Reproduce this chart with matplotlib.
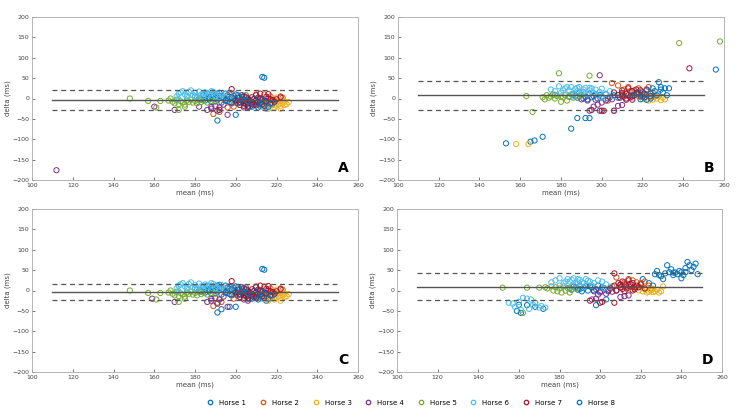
import numpy as np
import matplotlib.pyplot as plt
from matplotlib.lines import Line2D

# horse names and MATLAB default colours
horses = ['Horse 1', 'Horse 2', 'Horse 3', 'Horse 4',
          'Horse 5', 'Horse 6', 'Horse 7', 'Horse 8']
colors = ['#0072BD', '#D95319', '#EDB120', '#7E2F8E',
          '#77AC30', '#4DBEEE', '#A2142F', '#0072BD']

# limits of agreement per panel: (mean, upper, lower)
loa_A = (-3, 20, -28)
loa_B = (8, 43, -27)
loa_C = (-3, 17, -24)
loa_D = (9, 43, -24)

# ---- panel A: (mean, delta) per horse ----
a_h1 = [(180, 5), (182, 0), (184, 8), (185, -5), (186, 12), (187, 3), (188, -8), (189, 10), (190, 0),
        (191, -3), (192, 6), (193, -10), (194, 2), (195, 12), (196, -6), (197, 4), (198, -12), (199, 0),
        (200, -2), (201, 8), (202, -8), (203, 3), (205, -15), (206, -4), (208, -20), (210, -10),
        (212, -18), (215, -22), (213, 53), (214, 51), (191, -54), (200, -40), (188, 5), (192, 14),
        (196, 8), (183, -3), (185, 4), (187, -2), (189, 6), (191, 12), (193, 2), (195, -4), (197, -9),
        (199, 6), (201, -4), (204, -8)]
a_h2 = [(189, -38), (192, -33), (205, 8), (210, 10), (217, 5), (219, -5), (222, 5), (223, 2), (212, -3),
        (215, -15), (200, -10), (197, 10), (199, -20), (214, 10), (196, -22)]
a_h3 = [(210, -10), (212, -18), (213, -5), (214, -12), (215, -20), (216, -8), (217, -3), (218, -15),
        (219, -22), (220, -10), (221, -5), (222, -18), (223, -12), (224, -8), (225, -14), (226, -9),
        (218, 0), (220, 2), (216, -25), (222, -25), (219, -16), (221, -14), (217, -10), (220, -18),
        (223, -4), (224, -16), (215, -6)]
a_h4 = [(112, -176), (160, -20), (170, -28), (182, -20), (186, -28), (188, -20), (190, -18), (192, -22),
        (194, -15), (196, -40), (198, -10), (200, -5), (204, -22), (206, -20), (210, -12), (188, -25),
        (191, -30)]
a_h5 = [(148, 0), (157, -6), (161, -22), (163, -6), (167, -5), (168, 0), (169, -8), (170, -12), (171, -3),
        (172, -28), (173, -7), (174, -10), (175, -15), (176, -5), (177, -8), (178, -3), (179, -10),
        (180, -6), (181, -12), (182, -4), (183, -9), (184, -5), (186, -10), (188, -6), (190, -8),
        (175, -20), (172, -14)]
a_h6 = [(171, 5), (172, 12), (173, 15), (174, 18), (175, 10), (176, 3), (177, 16), (178, 20), (179, 8),
        (180, 14), (181, 2), (182, 17), (183, 10), (184, 5), (185, 15), (186, 8), (187, 12), (188, 0),
        (189, 16), (190, 6), (191, 10), (193, 13), (195, 2), (197, -5), (199, 8), (202, -3), (205, -10),
        (208, -15), (213, -20), (215, -25), (172, -2), (176, 7), (180, 6), (184, 12), (188, 18), (192, 4)]
a_h7 = [(198, 23), (200, -5), (201, 2), (202, -10), (203, -3), (204, 5), (205, -12), (206, 0), (207, -8),
        (208, 3), (209, -15), (210, -5), (211, 2), (212, -10), (213, -2), (214, -18), (215, -7), (216, 0),
        (217, -12), (218, -4), (204, -18), (206, -20), (208, -14), (210, 8), (212, 12), (216, 11),
        (220, -2), (222, 3), (203, 8), (205, 3), (207, -5), (209, -2), (211, -9), (213, -14), (192, -28),
        (202, -16), (204, -6), (206, -12), (208, -9), (210, -17), (212, 0), (214, -6), (215, 4),
        (217, -2), (219, -8)]
a_h8 = [(195, -5), (198, 3), (201, -12), (203, -2), (206, -6), (209, 0), (211, -15), (214, -8),
        (216, -20), (218, -12), (200, 10), (204, 6), (207, -20), (211, -22), (213, -3)]

# ---- panel B ----
b_h1 = [(153, -110), (165, -106), (167, -103), (171, -94), (185, -74), (188, -48), (192, -48), (194, -48),
        (184, 5), (186, 10), (188, 2), (190, 8), (192, 4), (194, 12), (196, 6), (198, 0), (200, 5),
        (202, 10), (204, 3), (206, 8), (208, 2), (210, 6), (189, 14), (193, -2), (197, 10), (187, 6),
        (191, 0), (195, 3), (199, 9), (203, 0)]
b_h2 = [(205, 38), (208, 32), (213, 28), (216, 20), (210, 10), (214, 18), (218, 25), (221, 12),
        (223, 28), (226, 5), (211, 22), (203, -5), (206, -30), (225, 15)]
b_h3 = [(158, -112), (164, -112), (215, 0), (218, 5), (220, -2), (222, 8), (224, 3), (225, -3),
        (226, 10), (227, 0), (228, 5), (229, -4), (230, 2), (231, -2), (223, -5), (219, 10), (221, 0),
        (216, 12)]
b_h4 = [(199, 57), (194, -30), (196, -20), (198, -15), (199, -30), (206, -30), (208, -18), (210, -16),
        (212, 0), (197, -3), (202, -5), (205, -2), (200, -10), (215, -3), (193, -5), (190, -2)]
b_h5 = [(163, 6), (166, -33), (171, 3), (173, 8), (175, 5), (176, 10), (177, 0), (178, 6), (179, 62),
        (180, -8), (181, 3), (182, 8), (183, -5), (184, 4), (185, 10), (186, 2), (188, 6), (190, 8),
        (194, 56), (238, 136), (258, 140), (172, -2), (174, 2), (177, 9), (180, 5)]
b_h6 = [(175, 22), (177, 18), (179, 30), (180, 14), (182, 25), (184, 20), (185, 28), (186, 12),
        (187, 24), (188, 18), (189, 28), (190, 15), (191, 22), (192, 26), (193, 10), (194, 20), (195, 25),
        (196, 14), (197, 22), (198, 8), (200, 24), (202, 12), (204, 18), (200, 2), (206, 5), (186, 5),
        (181, 20), (183, 28), (188, 26), (191, 16), (194, 26), (199, 16)]
b_h7 = [(200, -30), (201, -30), (195, -28), (243, 74), (206, 15), (208, 8), (210, 20), (211, 5),
        (212, 12), (213, 25), (214, 3), (215, 18), (216, 8), (217, 22), (218, 12), (219, 5), (220, 15),
        (221, 10), (222, 22), (224, 6), (212, -3), (209, 2), (210, 14), (213, 8), (215, 5), (217, 14),
        (219, 20), (221, 3)]
b_h8 = [(215, 8), (218, 15), (220, 5), (222, 20), (224, 12), (225, 25), (226, 18), (227, 8), (228, 40),
        (229, 22), (230, 15), (231, 25), (232, 8), (233, 25), (256, 71), (224, 0), (219, -2), (222, -3),
        (229, 28)]

# ---- panel C ----
c_h1 = [(180, 5), (182, 0), (184, 8), (185, -5), (186, 12), (187, 3), (188, -8), (189, 10), (190, 0),
        (191, -3), (192, 6), (193, -10), (194, 2), (195, 12), (196, -6), (197, 4), (198, -12), (199, 0),
        (200, -2), (201, 8), (202, -8), (203, 3), (205, -15), (206, -4), (208, -20), (210, -10),
        (212, -18), (215, -25), (213, 53), (214, 51), (191, -54), (193, -46), (197, -40), (200, -40),
        (188, 5), (192, 14), (196, 8), (183, -3), (185, 4), (187, -2), (189, 6), (191, 12), (193, 2),
        (195, -4), (197, -9), (199, 6), (201, -4), (204, -8)]
c_h2 = [(189, -38), (191, -33), (205, 8), (210, 10), (217, 5), (219, -5), (222, 5), (223, 2), (212, -3),
        (215, -15), (200, -10), (197, 10), (199, -20), (214, 10), (193, -28)]
c_h3 = [(210, -10), (212, -18), (213, -5), (214, -12), (215, -20), (216, -8), (217, -3), (218, -15),
        (219, -22), (220, -10), (221, -5), (222, -18), (223, -12), (224, -8), (225, -14), (226, -9),
        (218, 0), (220, 2), (216, -25), (222, -25), (219, -16), (221, -14), (217, -10), (220, -18),
        (223, -4), (224, -16), (215, -6)]
c_h4 = [(159, -20), (170, -28), (186, -28), (188, -20), (190, -18), (192, -22), (194, -15), (196, -40),
        (198, -10), (200, -5), (204, -22), (206, -25), (210, -12), (188, -25), (191, -30)]
c_h5 = [(148, 0), (157, -6), (161, -22), (163, -6), (167, -5), (168, 0), (169, -8), (170, -12), (171, -3),
        (172, -28), (173, -7), (174, -10), (175, -15), (176, -5), (177, -8), (178, -3), (179, -10),
        (180, -6), (181, -12), (182, -4), (183, -9), (184, -5), (186, -10), (188, -6), (190, -8),
        (175, -20), (172, -14)]
c_h6 = [(171, 5), (172, 12), (173, 15), (174, 18), (175, 10), (176, 3), (177, 16), (178, 20), (179, 8),
        (180, 14), (181, 2), (182, 17), (183, 10), (184, 5), (185, 15), (186, 8), (187, 12), (188, 0),
        (189, 16), (190, 6), (191, 10), (193, 13), (195, 2), (197, -5), (199, 8), (202, -3), (205, -10),
        (208, -15), (213, -20), (172, -2), (176, 7), (180, 6), (184, 12), (188, 18), (192, 4)]
c_h7 = [(198, 23), (200, -5), (201, 2), (202, -10), (203, -3), (204, 5), (205, -12), (206, 0), (207, -8),
        (208, 3), (209, -15), (210, -5), (211, 2), (212, -10), (213, -2), (214, -18), (215, -7), (216, 0),
        (217, -12), (218, -4), (204, -18), (206, -20), (208, -14), (210, 8), (212, 12), (216, 11),
        (220, -2), (222, 3), (203, 8), (205, 3), (207, -5), (209, -2), (211, -9), (213, -14),
        (202, -16), (204, -6), (206, -12), (208, -9), (210, -17), (212, 0), (214, -6), (215, 4),
        (217, -2), (219, -8)]
c_h8 = [(195, -5), (198, 3), (201, -12), (203, -2), (206, -6), (209, 0), (211, -15), (214, -8),
        (216, -20), (218, -12), (200, 10), (204, 6), (207, -20), (211, -22), (213, -3)]

# ---- panel D ----
d_h1 = [(159, -50), (161, -55), (164, -36), (168, -40), (172, -45), (160, -35), (185, 5), (187, 10),
        (189, 2), (190, 12), (192, 6), (194, 0), (196, 8), (198, 3), (200, -2), (202, 6), (204, 0),
        (198, -36), (203, -22), (221, 28), (224, 18), (226, 12), (188, 8), (191, -2), (195, 10), (199, 12),
        (186, 2), (190, 4), (193, 10), (197, 0), (201, 8)]
d_h2 = [(208, 32), (214, 28), (216, 25), (218, 20), (220, 18), (222, 22), (224, 12), (210, 15),
        (212, 20), (219, 10), (225, 5), (206, 10)]
d_h3 = [(215, 2), (217, 5), (219, 0), (220, 8), (221, -2), (222, 3), (223, 6), (224, -3), (225, 0),
        (226, 4), (227, -2), (228, 2), (229, -5), (230, -2), (231, 10), (218, 8), (223, -5), (226, -4)]
d_h4 = [(196, -22), (198, -20), (199, -10), (200, -5), (203, -8), (204, -2), (210, -16), (212, -14),
        (214, -12), (202, 2), (206, -3), (208, 0), (197, -2)]
d_h5 = [(152, 7), (164, 7), (170, 7), (162, -55), (168, -30), (174, 5), (176, 10), (177, 0), (178, 8),
        (180, 5), (181, -5), (182, 10), (183, 0), (184, 6), (185, -5), (186, 3), (188, 6), (173, 8),
        (179, -2)]
d_h6 = [(155, -30), (157, -32), (160, -28), (162, -18), (164, -20), (166, -22), (168, -30), (170, -42),
        (171, -38), (173, -42), (158, -40), (161, -48), (165, -45), (167, -35), (176, 20), (178, 25),
        (180, 30), (182, 18), (184, 28), (185, 22), (187, 30), (188, 15), (190, 26), (191, 20), (193, 28),
        (195, 22), (197, 18), (199, 25), (201, 22), (203, 15), (205, 8), (186, 10), (189, 20), (192, 8),
        (196, 12), (202, 5), (180, 12), (183, 22), (186, 26), (189, 28), (192, 18), (194, 24)]
d_h7 = [(195, -25), (200, -30), (201, -28), (207, 42), (207, -30), (205, 5), (207, 12), (209, 18),
        (210, 8), (211, 22), (212, 15), (213, 5), (214, 25), (215, 10), (216, 18), (217, 3), (218, 12),
        (219, 8), (220, 15), (222, 5), (208, 0), (212, -2), (216, 0), (210, 14), (213, 10), (215, 16),
        (217, 8), (211, 4)]
d_h8 = [(227, 40), (228, 48), (230, 35), (231, 28), (232, 42), (233, 62), (234, 45), (235, 52), (236, 38),
        (237, 44), (238, 40), (239, 48), (240, 45), (241, 38), (242, 55), (243, 70), (244, 62), (245, 50),
        (246, 58), (247, 66), (248, 40), (242, 45), (240, 30), (236, 44), (229, 38)]

panels = [
    ('A', [a_h1, a_h2, a_h3, a_h4, a_h5, a_h6, a_h7, a_h8], loa_A, [32, 17, 326, 163]),
    ('B', [b_h1, b_h2, b_h3, b_h4, b_h5, b_h6, b_h7, b_h8], loa_B, [398, 17, 326, 163]),
    ('C', [c_h1, c_h2, c_h3, c_h4, c_h5, c_h6, c_h7, c_h8], loa_C, [32, 209, 326, 163]),
    ('D', [d_h1, d_h2, d_h3, d_h4, d_h5, d_h6, d_h7, d_h8], loa_D, [397, 209, 325, 163]),
]

W, H = 743, 417
fig = plt.figure(figsize=(W / 100, H / 100), dpi=100)

for letter, data, loa, (px, py, pw, ph) in panels:
    ax = fig.add_axes([px / W, 1 - (py + ph) / H, pw / W, ph / H])
    for pts, col in zip(data, colors):
        arr = np.array(pts, dtype=float)
        ax.scatter(arr[:, 0], arr[:, 1], s=14, facecolors='none', edgecolors=col, linewidths=0.7, zorder=2)
    m, up, lo = loa
    ax.plot([110, 250], [m, m], color='#555555', lw=1.0, zorder=3)
    ax.plot([110, 250], [up, up], color='#555555', lw=0.9, ls=(0, (4, 3)), zorder=3)
    ax.plot([110, 250], [lo, lo], color='#555555', lw=0.9, ls=(0, (4, 3)), zorder=3)
    ax.set_xlim(100, 260)
    ax.set_ylim(-200, 200)
    ax.set_xticks(np.arange(100, 261, 20))
    ax.set_yticks(np.arange(-200, 201, 50))
    ax.tick_params(direction='in', length=2.5, width=0.5, labelsize=4.5, colors='#444444', pad=2)
    for sp in ax.spines.values():
        sp.set_color('#aaaaaa')
        sp.set_linewidth(0.6)
    ax.set_xlabel('mean (ms)', fontsize=5, color='#444444', labelpad=1)
    ax.set_ylabel('delta (ms)', fontsize=5, color='#444444', labelpad=1)
    ax.text(0.955, 0.075, letter, transform=ax.transAxes, fontsize=10, fontweight='bold',
            ha='center', va='center')

handles = [Line2D([], [], marker='o', ls='none', markerfacecolor='none', markeredgecolor=c,
                  markersize=3.2, markeredgewidth=0.9) for c in colors]
fig.legend(handles, horses, loc='center', bbox_to_anchor=(0.553, 0.034), ncol=8, frameon=False,
           fontsize=5, handletextpad=0.8, columnspacing=1.9, handlelength=1.0)

fig.savefig('out.png', dpi=100)
